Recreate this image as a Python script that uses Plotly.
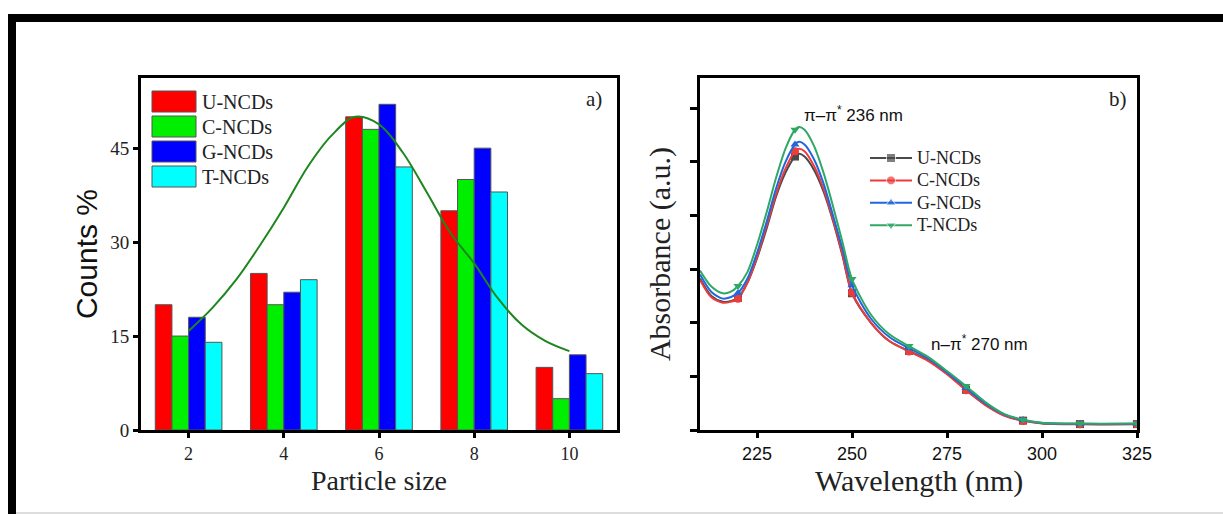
import plotly.graph_objects as go

W, H = 1223, 514

# ---------------- Left panel data (particle size histogram) ----------------
sizes = [2, 4, 6, 8, 10]
series_names = ["U-NCDs", "C-NCDs", "G-NCDs", "T-NCDs"]
u_counts = [20, 25, 50, 35, 10]
c_counts = [15, 20, 48, 40, 5]
g_counts = [18, 22, 52, 45, 12]
t_counts = [14, 24, 42, 38, 9]
bar_colors = ["#ff0000", "#00ee00", "#0000ff", "#00ffff"]

fit_x = [2, 2.5, 3, 3.5, 4, 4.5, 5, 5.5, 6, 6.5, 7, 7.5, 8, 8.5, 9, 9.5, 10]
fit_y = [15.8, 19.5, 24, 29.5, 35.5, 42, 47, 50, 48.8, 44.3, 38, 31.5, 26.6, 21, 16.8, 14.2, 12.6]

# ---------------- Right panel data (UV-vis absorbance) ----------------
wavelength = [210, 213, 216, 218, 220, 222.5, 225, 227.5, 230, 232.5, 235, 236, 237.5,
              240, 242.5, 245, 247.5, 250, 255, 260, 265, 270, 275, 280, 285, 290,
              295, 300, 310, 325]
abs_u = [0.565, 0.50, 0.478, 0.48, 0.493, 0.55, 0.64, 0.75, 0.87, 0.96, 1.02, 1.03, 1.02,
         0.97, 0.89, 0.78, 0.65, 0.51, 0.40, 0.33, 0.295, 0.26, 0.21, 0.15, 0.095, 0.055,
         0.035, 0.025, 0.022, 0.022]
abs_c = [0.56, 0.495, 0.475, 0.478, 0.49, 0.55, 0.645, 0.76, 0.88, 0.975, 1.04, 1.049, 1.04,
         0.985, 0.90, 0.785, 0.655, 0.512, 0.40, 0.33, 0.293, 0.258, 0.208, 0.148, 0.094, 0.054,
         0.034, 0.024, 0.021, 0.021]
abs_g = [0.58, 0.515, 0.49, 0.495, 0.511, 0.565, 0.66, 0.775, 0.90, 1.0, 1.065, 1.075, 1.065,
         1.01, 0.92, 0.80, 0.675, 0.54, 0.415, 0.345, 0.305, 0.267, 0.215, 0.157, 0.10, 0.058,
         0.037, 0.026, 0.023, 0.023]
abs_t = [0.595, 0.535, 0.51, 0.515, 0.537, 0.59, 0.69, 0.81, 0.94, 1.05, 1.12, 1.13, 1.12,
         1.06, 0.96, 0.835, 0.70, 0.563, 0.43, 0.355, 0.313, 0.273, 0.22, 0.164, 0.105, 0.06,
         0.038, 0.027, 0.024, 0.024]
marker_wavelengths = [220, 235, 250, 265, 280, 295, 310, 325]
line_colors = ["#4a4a4a", "#ee3b3b", "#2266dd", "#2fa866"]
line_symbols = ["square", "circle", "triangle-up", "triangle-down"]

x_ticks_right = [225, 250, 275, 300, 325]
y_ticks_left = [0, 15, 30, 45]

# geometry (pixels)
L_X0, L_X1 = 141, 617
R_X0, R_X1 = 700, 1137
P_Y0, P_Y1 = 78, 430
X2_RANGE = [210, 325]
Y2_RANGE = [0, 1.313]


def px(x):
    return x / W


def py(y):
    return 1 - y / H


def pix_to_x2(p):
    return X2_RANGE[0] + (p - R_X0) / (R_X1 - R_X0) * (X2_RANGE[1] - X2_RANGE[0])


def pix_to_y2(p):
    return Y2_RANGE[0] + (P_Y1 - p) / (P_Y1 - P_Y0) * (Y2_RANGE[1] - Y2_RANGE[0])


SERIF = "Liberation Serif, Times New Roman, serif"
SANS = "Liberation Sans, Arial, sans-serif"

fig = go.Figure()

count_series = [u_counts, c_counts, g_counts, t_counts]
for name, vals, col in zip(series_names, count_series, bar_colors):
    fig.add_trace(go.Bar(
        x=sizes, y=vals, name=name, marker=dict(color=col, line=dict(color="#555555", width=1)),
        xaxis="x", yaxis="y", showlegend=False,
    ))

fig.add_trace(go.Scatter(
    x=fit_x, y=fit_y, mode="lines", line=dict(color="#1e861e", width=2, shape="spline"),
    xaxis="x", yaxis="y", showlegend=False, name="fit",
))

shapes = []
annotations = []

abs_series = [abs_u, abs_c, abs_g, abs_t]
for i, (name, vals, col, sym) in enumerate(zip(series_names, abs_series, line_colors, line_symbols)):
    fig.add_trace(go.Scatter(
        x=wavelength, y=vals, mode="lines", line=dict(color=col, width=2, shape="spline", smoothing=0.8),
        xaxis="x2", yaxis="y2", showlegend=False, name=name,
    ))
    mx = [w for w in wavelength if w in marker_wavelengths]
    my = [v for w, v in zip(wavelength, vals) if w in marker_wavelengths]
    fig.add_trace(go.Scatter(
        x=mx, y=my, mode="markers", marker=dict(color=col, symbol=sym, size=8),
        xaxis="x2", yaxis="y2", showlegend=False, name=name,
    ))
    # manual legend entry (line + marker + label) inside the right panel
    row_y = 158 + i * 22.4
    fig.add_trace(go.Scatter(
        x=[pix_to_x2(870), pix_to_x2(891), pix_to_x2(912)], y=[pix_to_y2(row_y)] * 3,
        mode="lines+markers", line=dict(color=col, width=2),
        marker=dict(color=col, symbol=sym, size=[0, 9, 0]),
        xaxis="x2", yaxis="y2", showlegend=False, name=name, hoverinfo="skip",
    ))
    annotations.append(dict(text=name, xref="paper", yref="paper", x=px(915), y=py(row_y),
                            xanchor="left", yanchor="middle", showarrow=False,
                            font=dict(family=SERIF, size=18, color="#222")))

# manual legend for bar panel (large swatches)
for i, (name, col) in enumerate(zip(series_names, bar_colors)):
    top = 91 + i * 25
    shapes.append(dict(type="rect", xref="paper", yref="paper",
                       x0=px(152), x1=px(196), y0=py(top + 21), y1=py(top),
                       fillcolor=col, line=dict(color="#555555", width=1)))
    annotations.append(dict(text=name, xref="paper", yref="paper", x=px(200), y=py(top + 11),
                            xanchor="left", yanchor="middle", showarrow=False,
                            font=dict(family=SERIF, size=20, color="#222")))

# outer frame
shapes.append(dict(type="rect", xref="paper", yref="paper", x0=px(8), x1=px(16), y0=0, y1=py(14),
                   fillcolor="black", line=dict(width=0)))
shapes.append(dict(type="rect", xref="paper", yref="paper", x0=px(8), x1=1, y0=py(22), y1=py(14),
                   fillcolor="black", line=dict(width=0)))
shapes.append(dict(type="line", xref="paper", yref="paper", x0=px(16), x1=1, y0=py(513), y1=py(513),
                   line=dict(color="#bbbbbb", width=1)))

annotations += [
    dict(text="a)", xref="paper", yref="paper", x=px(604), y=py(99), xanchor="right", yanchor="middle",
         showarrow=False, font=dict(family=SERIF, size=21, color="#222")),
    dict(text="b)", xref="paper", yref="paper", x=px(1129), y=py(99), xanchor="right", yanchor="middle",
         showarrow=False, font=dict(family=SERIF, size=21, color="#222")),
    dict(text="π–π<sup>*</sup> 236 nm", xref="x2", yref="y2", x=236.8, y=1.18, xanchor="left",
         yanchor="middle", showarrow=False, font=dict(family=SANS, size=17, color="#111")),
    dict(text="n–π<sup>*</sup> 270 nm", xref="x2", yref="y2", x=270.3, y=0.325, xanchor="left",
         yanchor="middle", showarrow=False, font=dict(family=SANS, size=17, color="#111")),
    # x-axis titles
    dict(text="Particle size", xref="paper", yref="paper", x=px((L_X0 + L_X1) / 2), y=py(480),
         xanchor="center", yanchor="middle", showarrow=False,
         font=dict(family=SERIF, size=28, color="#222")),
    dict(text="Wavelength (nm)", xref="paper", yref="paper", x=px((R_X0 + R_X1) / 2), y=py(481),
         xanchor="center", yanchor="middle", showarrow=False,
         font=dict(family=SERIF, size=30, color="#222")),
]

axis_common = dict(showline=True, linecolor="black", linewidth=3, mirror=True, showgrid=False,
                   zeroline=False, ticks="outside", tickcolor="black", automargin=False)

fig.update_layout(
    width=W, height=H, margin=dict(l=0, r=0, t=0, b=0),
    paper_bgcolor="white", plot_bgcolor="white",
    barmode="group", bargap=0.3, bargroupgap=0,
    shapes=shapes, annotations=annotations, showlegend=False,
    xaxis=dict(domain=[px(L_X0), px(L_X1)], range=[1, 11], tickvals=sizes, ticklen=5, tickwidth=3,
               tickfont=dict(family=SERIF, size=18, color="#222"),
               anchor="y", **axis_common),
    yaxis=dict(domain=[py(P_Y1), py(P_Y0)], range=[0, 56.2], tickvals=y_ticks_left, ticklen=5, tickwidth=3,
               tickfont=dict(family=SERIF, size=19, color="#222"),
               title=dict(text="Counts %", font=dict(family=SANS, size=30, color="#111"), standoff=4),
               anchor="x", **axis_common),
    xaxis2=dict(domain=[px(R_X0), px(R_X1)], range=X2_RANGE, tickvals=x_ticks_right, ticklen=5, tickwidth=3,
                tickfont=dict(family=SANS, size=18, color="#111"),
                anchor="y2", **axis_common),
    yaxis2=dict(domain=[py(P_Y1), py(P_Y0)], range=Y2_RANGE, dtick=0.2, tick0=0, ticklen=7, tickwidth=3,
                showticklabels=False,
                title=dict(text="Absorbance (a.u.)", font=dict(family=SERIF, size=30, color="#222"), standoff=11),
                anchor="x2", **axis_common),
)

fig.write_html("out.html")
